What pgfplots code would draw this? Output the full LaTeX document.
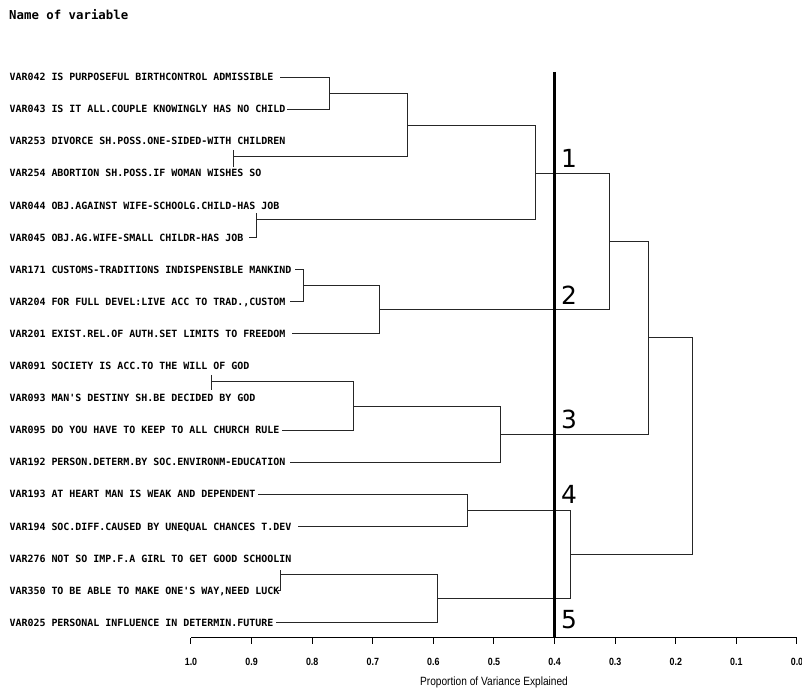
\documentclass[border=0pt]{standalone}
\usepackage{fontspec}
\setmainfont{Liberation Sans}
\newfontfamily\lblfont{DejaVu Sans Mono}
\newfontfamily\numfont{DejaVu Sans}
\newfontfamily\axfont[FakeStretch=0.85]{Liberation Sans}
\usepackage{pgfplots}
\pgfplotsset{compat=1.18}
\pgfplotsset{
  dendro/.style={black!85, line width=1bp, line join=miter},
}
\tikzset{
  lbl/.style={anchor=west, inner sep=0pt, font=\lblfont\bfseries\fontsize{10}{12}\selectfont, text height=7.3bp, text depth=0pt},
  cnum/.style={anchor=center, inner sep=0pt, font=\numfont\fontsize{25}{30}\selectfont},
}
\begin{document}
\begin{tikzpicture}
\begin{axis}[
  scale only axis, width=606bp, height=566bp,
  xmin=0, xmax=1, x dir=reverse,
  ymin=-18.477, ymax=-0.844,
  axis x line=bottom, axis y line=none,
  x axis line style={-, line width=1bp, black},
  xtick={0,0.1,0.2,0.3,0.4,0.5,0.6,0.7,0.8,0.9,1},
  xticklabels={0.0,0.1,0.2,0.3,0.4,0.5,0.6,0.7,0.8,0.9,1.0},
  tick align=outside, major tick length=6bp,
  tick style={line width=1bp, black},
  x tick label style={font=\axfont\bfseries\fontsize{10.5}{12}\selectfont, anchor=center, yshift=-18bp},
  xlabel={Proportion of Variance Explained},
  xlabel style={font=\axfont\fontsize{12}{14}\selectfont, at={(axis description cs:0.5,0)}, anchor=center, yshift=-44bp},
  clip=false,
]
% bounding box corners
\coordinate (bbtl) at (axis cs:1.3152,1.399);
\coordinate (bbbr) at (axis cs:-0.00825,-20.097);

% title
\node[anchor=west, inner sep=0pt, font=\lblfont\bfseries\fontsize{12.4}{14}\selectfont, text height=9bp, text depth=0pt] at (axis cs:1.3003,0.947) {Name of variable};

% leaf labels
\node[lbl] at (axis cs:1.2998,-1)  {VAR042 IS PURPOSEFUL BIRTHCONTROL ADMISSIBLE};
\node[lbl] at (axis cs:1.2998,-2)  {VAR043 IS IT ALL.COUPLE KNOWINGLY HAS NO CHILD};
\node[lbl] at (axis cs:1.2998,-3)  {VAR253 DIVORCE SH.POSS.ONE-SIDED-WITH CHILDREN};
\node[lbl] at (axis cs:1.2998,-4)  {VAR254 ABORTION SH.POSS.IF WOMAN WISHES SO};
\node[lbl] at (axis cs:1.2998,-5)  {VAR044 OBJ.AGAINST WIFE-SCHOOLG.CHILD-HAS JOB};
\node[lbl] at (axis cs:1.2998,-6)  {VAR045 OBJ.AG.WIFE-SMALL CHILDR-HAS JOB};
\node[lbl] at (axis cs:1.2998,-7)  {VAR171 CUSTOMS-TRADITIONS INDISPENSIBLE MANKIND};
\node[lbl] at (axis cs:1.2998,-8)  {VAR204 FOR FULL DEVEL:LIVE ACC TO TRAD.,CUSTOM};
\node[lbl] at (axis cs:1.2998,-9)  {VAR201 EXIST.REL.OF AUTH.SET LIMITS TO FREEDOM};
\node[lbl] at (axis cs:1.2998,-10) {VAR091 SOCIETY IS ACC.TO THE WILL OF GOD};
\node[lbl] at (axis cs:1.2998,-11) {VAR093 MAN\textquotesingle S DESTINY SH.BE DECIDED BY GOD};
\node[lbl] at (axis cs:1.2998,-12) {VAR095 DO YOU HAVE TO KEEP TO ALL CHURCH RULE};
\node[lbl] at (axis cs:1.2998,-13) {VAR192 PERSON.DETERM.BY SOC.ENVIRONM-EDUCATION};
\node[lbl] at (axis cs:1.2998,-14) {VAR193 AT HEART MAN IS WEAK AND DEPENDENT};
\node[lbl] at (axis cs:1.2998,-15) {VAR194 SOC.DIFF.CAUSED BY UNEQUAL CHANCES T.DEV};
\node[lbl] at (axis cs:1.2998,-16) {VAR276 NOT SO IMP.F.A GIRL TO GET GOOD SCHOOLIN};
\node[lbl] at (axis cs:1.2998,-17) {VAR350 TO BE ABLE TO MAKE ONE\textquotesingle S WAY,NEED LUCK};
\node[lbl] at (axis cs:1.2998,-18) {VAR025 PERSONAL INFLUENCE IN DETERMIN.FUTURE};

% dendrogram
% cluster 1
\addplot[dendro] coordinates {(0.853,-1) (0.772,-1) (0.772,-2) (0.841,-2)};
\addplot[dendro] coordinates {(0.930,-3.27) (0.930,-3.79)};
\addplot[dendro] coordinates {(0.772,-1.5) (0.642,-1.5) (0.642,-3.47) (0.930,-3.47)};
\addplot[dendro] coordinates {(0.892,-5.24) (0.892,-6) (0.905,-6)};
\addplot[dendro] coordinates {(0.642,-2.5) (0.432,-2.5) (0.432,-5.45) (0.892,-5.45)};
% cluster 2
\addplot[dendro] coordinates {(0.828,-7) (0.814,-7) (0.814,-8) (0.837,-8)};
\addplot[dendro] coordinates {(0.814,-7.5) (0.689,-7.5) (0.689,-9) (0.834,-9)};
% 1+2
\addplot[dendro] coordinates {(0.432,-4) (0.310,-4) (0.310,-8.25) (0.689,-8.25)};
% cluster 3
\addplot[dendro] coordinates {(0.966,-10.28) (0.966,-10.75)};
\addplot[dendro] coordinates {(0.966,-10.5) (0.732,-10.5) (0.732,-12) (0.850,-12)};
\addplot[dendro] coordinates {(0.732,-11.25) (0.490,-11.25) (0.490,-13) (0.837,-13)};
% (1+2)+3
\addplot[dendro] coordinates {(0.310,-6.125) (0.245,-6.125) (0.245,-12.125) (0.490,-12.125)};
% cluster 4
\addplot[dendro] coordinates {(0.889,-14) (0.544,-14) (0.544,-15) (0.823,-15)};
% cluster 5
\addplot[dendro] coordinates {(0.853,-16.36) (0.853,-17) (0.856,-17)};
\addplot[dendro] coordinates {(0.853,-16.5) (0.594,-16.5) (0.594,-18) (0.859,-18)};
% 4+5
\addplot[dendro] coordinates {(0.544,-14.5) (0.374,-14.5) (0.374,-17.25) (0.594,-17.25)};
% root
\addplot[dendro] coordinates {(0.245,-9.125) (0.172,-9.125) (0.172,-15.875) (0.374,-15.875)};

% cut line
\addplot[black, line width=2.4bp] coordinates {(0.4,-0.844) (0.4,-18.477)};

% cluster numbers
\node[cnum] at (axis cs:0.376,-3.53) {1};
\node[cnum] at (axis cs:0.376,-7.81) {2};
\node[cnum] at (axis cs:0.376,-11.68) {3};
\node[cnum] at (axis cs:0.376,-14.01) {4};
\node[cnum] at (axis cs:0.376,-17.9) {5};
\end{axis}
\pgfresetboundingbox
\useasboundingbox (bbtl) rectangle (bbbr);
\end{tikzpicture}
\end{document}
